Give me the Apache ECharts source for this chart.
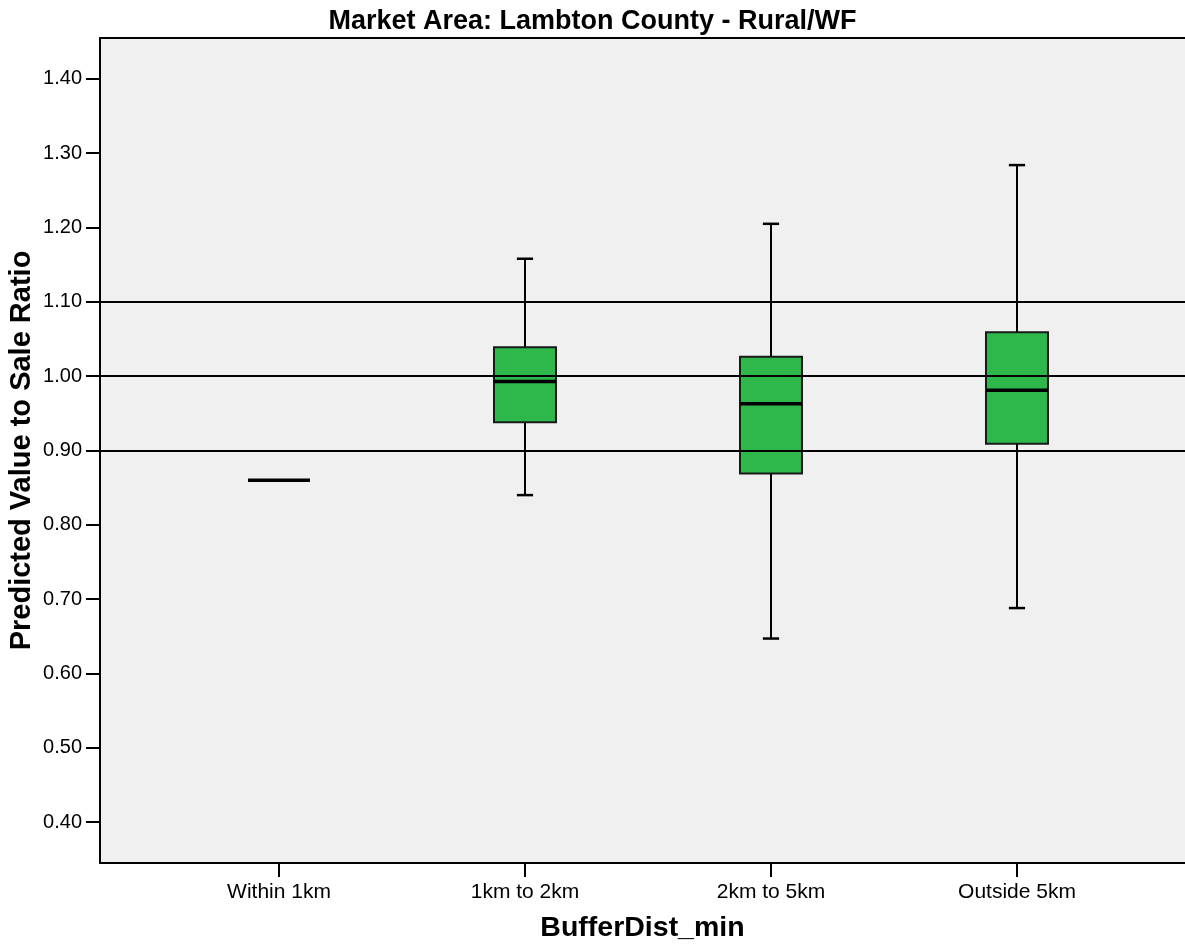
<!DOCTYPE html>
<html>
<head>
<meta charset="utf-8">
<script src="https://cdn.jsdelivr.net/npm/echarts@6/dist/echarts.min.js"></script>
<style>
  html, body { margin: 0; padding: 0; background: #ffffff; }
  #chart { width: 1185px; height: 947px; }
</style>
</head>
<body>
<div id="chart"></div>
<script>
// ---- Data ----
const categories = ['Within 1km', '1km to 2km', '2km to 5km', 'Outside 5km'];
const whiskerLow  = [0.860, 0.840, 0.647, 0.688];
const quartile1   = [0.860, 0.938, 0.869, 0.909];
const medians     = [0.860, 0.993, 0.963, 0.981];
const quartile3   = [0.860, 1.039, 1.026, 1.059];
const whiskerHigh = [0.860, 1.158, 1.205, 1.284];
const referenceLines = [0.9, 1.0, 1.1];
const yTickValues = [0.4, 0.5, 0.6, 0.7, 0.8, 0.9, 1.0, 1.1, 1.2, 1.3, 1.4];
const categoryIndex = [0, 1, 2, 3];

const FONT = '"Liberation Sans", Arial, Helvetica, sans-serif';
const BOX_WIDTH = 0.252;   // in category units
const CAP_WIDTH = 0.066;
const GREEN = '#2EB84B';

const boxData = categories.map((c, i) => [i, whiskerLow[i], quartile1[i], medians[i], quartile3[i], whiskerHigh[i]]);

function renderBox(params, api) {
  const x = api.value(0);
  const low = api.coord([x, api.value(1)]);
  const q1 = api.coord([x, api.value(2)]);
  const med = api.coord([x, api.value(3)]);
  const q3 = api.coord([x, api.value(4)]);
  const high = api.coord([x, api.value(5)]);
  const halfW = api.size([BOX_WIDTH, 0])[0] / 2;
  const halfCap = api.size([CAP_WIDTH, 0])[0] / 2;
  const cx = low[0];
  const children = [];
  const lineStyle = { stroke: '#000', lineWidth: 2 };
  if (high[1] < q3[1]) {
    children.push({ type: 'line', shape: { x1: cx, y1: high[1], x2: cx, y2: q3[1] }, style: lineStyle });
    children.push({ type: 'line', shape: { x1: cx - halfCap, y1: high[1], x2: cx + halfCap, y2: high[1] }, style: { stroke: '#000', lineWidth: 2.5 } });
  }
  if (low[1] > q1[1]) {
    children.push({ type: 'line', shape: { x1: cx, y1: q1[1], x2: cx, y2: low[1] }, style: lineStyle });
    children.push({ type: 'line', shape: { x1: cx - halfCap, y1: low[1], x2: cx + halfCap, y2: low[1] }, style: { stroke: '#000', lineWidth: 2.5 } });
  }
  if (q1[1] - q3[1] > 0.5) {
    children.push({ type: 'rect', shape: { x: cx - halfW, y: q3[1], width: 2 * halfW, height: q1[1] - q3[1] },
      style: { fill: GREEN, stroke: '#1a1a1a', lineWidth: 2 } });
  }
  children.push({ type: 'line', shape: { x1: cx - halfW, y1: med[1], x2: cx + halfW, y2: med[1] },
    style: { stroke: '#000', lineWidth: 3.5 } });
  return { type: 'group', children };
}

const chart = echarts.init(document.getElementById('chart'), null, { renderer: 'canvas' });
chart.setOption({
  animation: false,
  backgroundColor: '#ffffff',
  title: {
    text: 'Market Area: Lambton County - Rural/WF',
    left: 'center',
    top: 3,
    textStyle: { fontFamily: FONT, fontSize: 27, fontWeight: 'bold', color: '#000' }
  },
  grid: {
    left: 100, right: 0, top: 38, bottom: 84,
    outerBoundsMode: 'none',
    containLabel: false,
    show: true, backgroundColor: '#F0F0F0', borderWidth: 0
  },
  xAxis: [{
    type: 'value',
    min: -0.7276, max: 3.683,
    name: 'BufferDist_min',
    nameLocation: 'middle',
    nameGap: 51,
    nameTextStyle: { fontFamily: FONT, fontSize: 28.5, fontWeight: 'bold', color: '#000' },
    axisLine: { show: true, onZero: false, lineStyle: { color: '#000', width: 2 } },
    axisTick: { show: true, customValues: categoryIndex, length: 14, lineStyle: { color: '#000', width: 2 } },
    axisLabel: {
      customValues: categoryIndex,
      margin: 19,
      fontFamily: FONT, fontSize: 21, color: '#000',
      formatter: v => categories[Math.round(v)] || ''
    },
    splitLine: { show: false }
  }, {
    type: 'value',
    position: 'top',
    min: -0.7276, max: 3.683,
    axisLine: { show: true, onZero: false, lineStyle: { color: '#000', width: 2 } },
    axisTick: { show: false },
    axisLabel: { show: false },
    splitLine: { show: false }
  }],
  yAxis: {
    type: 'value',
    min: 0.345, max: 1.455,
    name: 'Predicted Value to Sale Ratio',
    nameLocation: 'middle',
    nameGap: 64,
    nameMoveOverlap: false,
    nameTextStyle: { fontFamily: FONT, fontSize: 29, fontWeight: 'bold', color: '#000' },
    axisLine: { show: true, onZero: false, lineStyle: { color: '#000', width: 2 } },
    axisTick: { show: true, customValues: yTickValues, length: 14, lineStyle: { color: '#000', width: 2 } },
    axisLabel: {
      customValues: yTickValues,
      margin: 18,
      fontFamily: FONT, fontSize: 20, color: '#000',
      formatter: v => v.toFixed(2)
    },
    splitLine: { show: false }
  },
  series: [{
    type: 'custom',
    name: 'box',
    xAxisIndex: 0,
    renderItem: renderBox,
    encode: { x: 0, y: [1, 2, 3, 4, 5] },
    data: boxData,
    z: 2
  }, {
    type: 'line',
    name: 'ref',
    xAxisIndex: 0,
    data: [],
    z: 5,
    markLine: {
      silent: true,
      symbol: ['none', 'none'],
      label: { show: false },
      lineStyle: { color: '#000', width: 2, type: 'solid' },
      data: referenceLines.map(v => ({ yAxis: v }))
    }
  }]
});
</script>
</body>
</html>
